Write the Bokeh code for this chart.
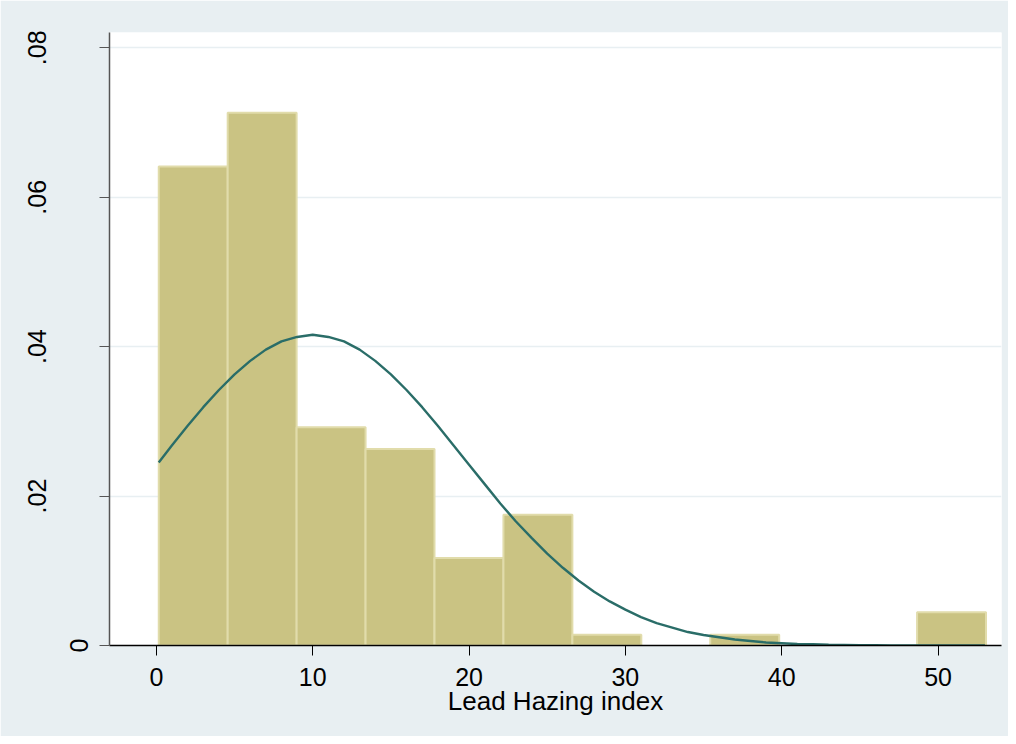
from bokeh.plotting import figure
from bokeh.models import FixedTicker, Range1d, LinearAxis
from bokeh.embed import file_html
from bokeh.resources import INLINE

# Histogram bins (Lead Hazing index), density heights
bin_left = [0.15, 4.56, 8.97, 13.38, 17.79, 22.20, 26.61, 31.02, 35.43, 39.84, 44.25, 48.66]
bin_right = [4.56, 8.97, 13.38, 17.79, 22.20, 26.61, 31.02, 35.43, 39.84, 44.25, 48.66, 53.07]
density = [0.0641, 0.0713, 0.0292, 0.0263, 0.0117, 0.0175, 0.00145, 0.0, 0.00145, 0.0, 0.0, 0.00445]

# Normal density overlay
curve_x = [0.15, 1, 2, 3, 4, 5, 6, 7, 8, 9, 10, 11, 12, 13, 14, 15, 16, 17, 18, 19,
           20, 21, 22, 23, 24, 25, 26, 27, 28, 29, 30, 31, 32, 33, 34, 35, 36, 37, 38, 39,
           40, 41, 42, 43, 44, 45, 46, 47, 48, 49, 50, 51, 52, 53]
curve_y = [0.0245, 0.0268, 0.0294, 0.0319, 0.0342, 0.0363, 0.0381, 0.0396, 0.0407, 0.0413,
           0.0416, 0.0413, 0.0407, 0.0396, 0.0381, 0.0363, 0.0342, 0.0319, 0.0294, 0.0268,
           0.0242, 0.0216, 0.0190, 0.0166, 0.0144, 0.0123, 0.0104, 0.0087, 0.0072, 0.0059,
           0.0048, 0.0038, 0.0030, 0.0024, 0.0018, 0.0014, 0.0011, 0.0008, 0.0006, 0.0004,
           0.0003, 0.0002, 0.00016, 0.00011, 0.00008, 0.00005, 0.00004, 0.00002, 0.00002, 0.00001,
           0.00001, 0.0, 0.0, 0.0]

x_ticks = [0, 10, 20, 30, 40, 50]
y_ticks = [0, 0.02, 0.04, 0.06, 0.08]
y_tick_labels = ["0", ".02", ".04", ".06", ".08"]
x_title = "Lead Hazing index"

BG = "#e8eff2"
FILL = "#cac383"
EDGE = "#e1dcab"
CURVE = "#2a6d68"
FONT = "Liberation Sans"

p = figure(width=1008, height=736, output_backend="svg", toolbar_location=None,
           x_range=Range1d(-3.0, 54.06), y_range=Range1d(0, 0.08205),
           min_border_left=109, min_border_right=7, min_border_top=32, min_border_bottom=91)
p.background_fill_color = "white"
p.border_fill_color = BG
p.outline_line_color = None

keep = [i for i, d in enumerate(density) if d > 0]
p.quad(left=[bin_left[i] for i in keep], right=[bin_right[i] for i in keep],
       top=[density[i] for i in keep], bottom=0,
       fill_color=FILL, line_color=EDGE, line_width=2)
p.line(curve_x, curve_y, line_color=CURVE, line_width=2.4)

# grid
p.xgrid.visible = False
p.ygrid.grid_line_color = BG
p.ygrid.grid_line_width = 1.5
p.ygrid.ticker = FixedTicker(ticks=y_ticks)

# x axis
xa = p.xaxis[0]
xa.ticker = FixedTicker(ticks=x_ticks)
xa.axis_label = x_title
xa.axis_label_text_font = FONT
xa.axis_label_text_font_size = "26px"
xa.axis_label_text_font_style = "normal"
xa.axis_label_text_color = "black"
xa.axis_label_standoff = -3
xa.major_label_text_font = FONT
xa.major_label_text_font_size = "25px"
xa.major_label_text_color = "black"
xa.major_label_standoff = 12
xa.axis_line_color = "black"
xa.axis_line_width = 1.5
xa.major_tick_line_color = "black"
xa.major_tick_out = 10
xa.major_tick_in = 0
xa.minor_tick_line_color = None

# inner y axis: line, ticks and the "0" label (which sits close to the axis)
ya = p.yaxis[0]
ya.ticker = FixedTicker(ticks=y_ticks)
ya.major_label_overrides = {t: (l if i == 0 else "") for i, (t, l) in enumerate(zip(y_ticks, y_tick_labels))}
ya.major_label_orientation = "vertical"
ya.major_label_text_font = FONT
ya.major_label_text_font_size = "25px"
ya.major_label_text_color = "black"
ya.major_label_standoff = 12
ya.axis_line_color = "#555555"
ya.axis_line_width = 1.5
ya.major_tick_line_color = "#555555"
ya.major_tick_out = 10
ya.major_tick_in = 0
ya.minor_tick_line_color = None

# outer y axis: the remaining labels further out
ya2 = LinearAxis(ticker=FixedTicker(ticks=y_ticks[1:]))
ya2.major_label_overrides = {t: l for t, l in zip(y_ticks[1:], y_tick_labels[1:])}
ya2.major_label_orientation = "vertical"
ya2.major_label_text_font = FONT
ya2.major_label_text_font_size = "25px"
ya2.major_label_text_color = "black"
ya2.major_label_standoff = 20
ya2.axis_line_color = None
ya2.major_tick_line_color = None
ya2.major_tick_out = 0
ya2.major_tick_in = 0
ya2.minor_tick_line_color = None
p.add_layout(ya2, "left")

open("out.html", "w").write(file_html(p, INLINE))
